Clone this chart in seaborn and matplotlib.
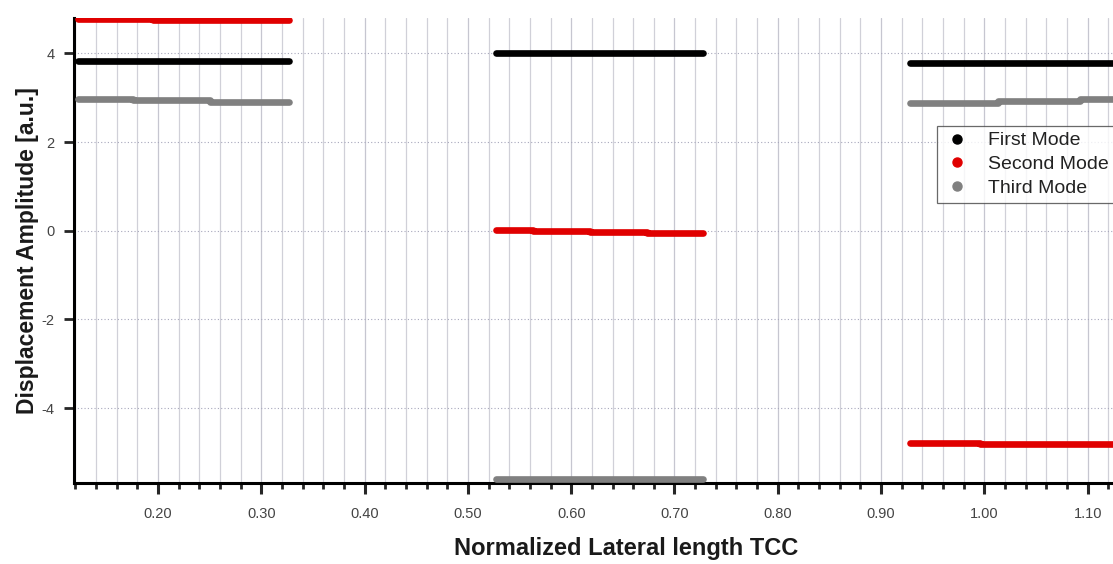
import numpy as np
import pandas as pd
import matplotlib
matplotlib.use("Agg")
import matplotlib.pyplot as plt
from matplotlib.lines import Line2D
from matplotlib.ticker import MultipleLocator
import seaborn as sns

# ---- data ----
mode_names = ["First Mode", "Second Mode", "Third Mode"]
mode_colors = ["#000000", "#e00000", "#808080"]

# each mode: three segments, x breakpoints and step levels (steps-post)
first_x = [[0.123, 0.327], [0.527, 0.728], [0.928, 1.130]]
first_y = [[3.83, 3.83], [4.02, 4.02], [3.79, 3.79]]

second_x = [[0.123, 0.195, 0.327], [0.527, 0.563, 0.618, 0.673, 0.728], [0.928, 0.996, 1.130]]
second_y = [[4.78, 4.76, 4.76], [0.02, 0.00, -0.02, -0.05, -0.05], [-4.79, -4.82, -4.82]]

third_x = [[0.123, 0.176, 0.250, 0.327], [0.527, 0.728], [0.928, 1.013, 1.093, 1.130]]
third_y = [[2.97, 2.94, 2.91, 2.91], [-5.59, -5.59], [2.89, 2.93, 2.97, 2.97]]

x_major = [0.20, 0.30, 0.40, 0.50, 0.60, 0.70, 0.80, 0.90, 1.00, 1.10]
y_major = [-4, -2, 0, 2, 4]

rows = []
for name, xs, ys in zip(mode_names, [first_x, second_x, third_x], [first_y, second_y, third_y]):
    for k, (sx, sy) in enumerate(zip(xs, ys)):
        for xv, yv in zip(sx, sy):
            rows.append({"x": xv, "y": yv, "mode": name, "seg": f"{name}-{k}"})
df = pd.DataFrame(rows)

sns.set_theme(style="white")
plt.rcParams["font.family"] = ["Liberation Sans", "DejaVu Sans"]

fig = plt.figure(figsize=(11.13, 5.64), dpi=100)
ax = fig.add_axes([74 / 1113, (564 - 483) / 564, (1113 - 74) / 1113, (483 - 18) / 564])

sns.lineplot(data=df, x="x", y="y", hue="mode", units="seg", estimator=None,
             palette=dict(zip(mode_names, mode_colors)), hue_order=mode_names,
             linewidth=4.8, solid_capstyle="round", drawstyle="steps-post",
             legend=False, ax=ax, sort=False, zorder=3)

ax.set_xlim(0.1187, 0.2 + (1113 - 158) / 1033)
ax.set_ylim(-5.69, 4.80)

ax.xaxis.set_major_locator(MultipleLocator(0.1))
ax.xaxis.set_minor_locator(MultipleLocator(0.02))
ax.set_xticks(x_major)
ax.set_xticklabels([f"{v:.2f}" for v in x_major])
ax.set_yticks(y_major)
ax.set_yticklabels([str(v) for v in y_major])

ax.grid(True, which="major", axis="x", color="#c6c6d0", linewidth=0.9, linestyle="-")
ax.grid(True, which="minor", axis="x", color="#d0d0d8", linewidth=0.9, linestyle="-")
ax.grid(True, which="major", axis="y", color="#a8a8bc", linewidth=0.8, linestyle=(0, (1, 2)))
ax.set_axisbelow(True)

for s in ["top", "right"]:
    ax.spines[s].set_visible(False)
for s in ["left", "bottom"]:
    ax.spines[s].set_visible(True)
    ax.spines[s].set_color("black")
    ax.spines[s].set_linewidth(2.2)

ax.tick_params(axis="x", which="major", direction="out", length=8, width=2.2,
               labelsize=10.5, labelcolor="#444444", pad=9, bottom=True)
ax.tick_params(axis="x", which="minor", direction="out", length=4.5, width=2.0, bottom=True)
ax.tick_params(axis="y", which="major", direction="out", length=7, width=2.0,
               labelsize=10.5, labelcolor="#444444", pad=7, left=True)

ax.set_xlabel("Normalized Lateral length TCC", fontsize=17, fontweight="bold", color="#1a1a1a")
ax.set_ylabel("Displacement Amplitude [a.u.]", fontsize=16.5, fontweight="bold", color="#1a1a1a")
ax.xaxis.set_label_coords((626 - 74) / 1039, (483 - 537) / 465)
ax.yaxis.set_label_coords((39 - 74) / 1039, 0.5)

handles = [Line2D([], [], marker="o", linestyle="none", markersize=6.5, color=c,
                  markeredgecolor=c) for c in mode_colors]
leg = ax.legend(handles, mode_names, loc="upper left", bbox_to_anchor=(0.8306, 0.768),
                frameon=True, fancybox=False, fontsize=14, borderpad=0.3,
                labelspacing=0.32, handletextpad=0.8, handlelength=1.5, borderaxespad=0)
leg.get_frame().set_edgecolor("#444444")
leg.get_frame().set_linewidth(0.9)
for t in leg.get_texts():
    t.set_color("#222222")

fig.savefig("out.png", dpi=100)
